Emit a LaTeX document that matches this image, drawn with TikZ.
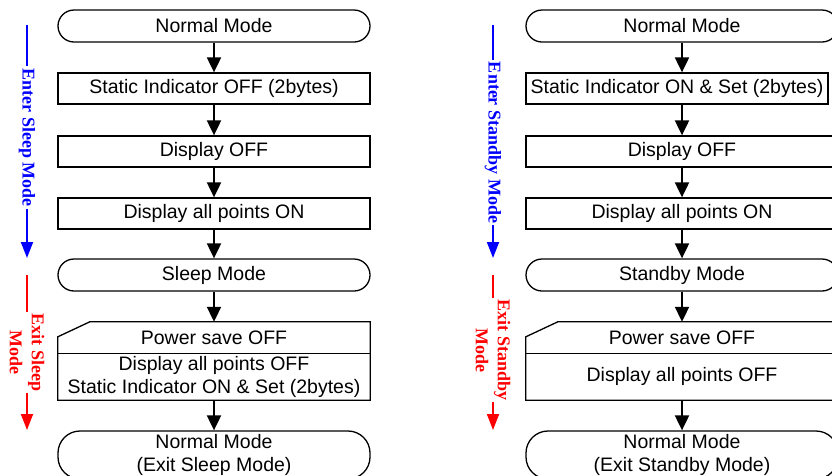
\documentclass[tikz,border=0pt]{standalone}
\usepackage{fontspec}
\setmainfont{Liberation Sans}
\newfontfamily\lblfont{Liberation Serif}
\usetikzlibrary{arrows.meta}
\begin{document}
\begin{tikzpicture}[x=1pt,y=-1pt,
  txtfont/.style={font=\fontsize{19.5}{23}\selectfont},
  term/.style={draw, line width=1.3pt, rounded corners=16pt, minimum width=312pt, minimum height=32pt, inner sep=0pt, txtfont, align=center},
  term2/.style={term, rounded corners=22pt, minimum height=48pt},
  stepbox/.style={draw, line width=1.3pt, minimum width=312pt, minimum height=31pt, inner sep=0pt, txtfont, align=center},
  area/.style={minimum width=312pt, inner sep=0pt, txtfont, align=center},
  boxline/.style={line width=1.3pt},
  flow/.style={-{Triangle[width=14pt,length=15pt]}, line width=2pt},
  lbl/.style={rotate=-90, inner sep=2pt, font=\lblfont\bfseries\fontsize{18}{22}\selectfont, align=center},
  blueline/.style={draw=blue, line width=1.8pt},
  redline/.style={draw=red, line width=1.8pt},
  bluearrow/.style={blueline, -{Triangle[width=12pt,length=16pt]}},
  redarrow/.style={redline, -{Triangle[width=12pt,length=16pt]}},
]
\useasboundingbox (0,0) rectangle (832,475);

% ---------------- Left column ----------------
\node[term] (n1) at (214,26) {Normal Mode};
\node[stepbox] (s1) at (214,88.5) {Static Indicator OFF (2bytes)};
\node[stepbox] (d1) at (214,151.5) {Display OFF};
\node[stepbox] (a1) at (214,213.5) {Display all points ON};
\node[term] (m1) at (214,275) {Sleep Mode};
\node[area, minimum height=31pt] (p1) at (214,337.5) {Power save OFF};
\node[area, minimum height=47pt] (q1) at (214,376.5) {Display all points OFF\\Static Indicator ON \& Set (2bytes)};
\node[term2] (e1) at (214,455) {Normal Mode\\(Exit Sleep Mode)};

\draw[boxline] ([yshift=-15pt]p1.north west) -- ([xshift=32pt]p1.north west) -- (p1.north east) -- (q1.south east) -- (q1.south west) -- cycle;
\draw[boxline] (p1.south west) -- (p1.south east);

\draw[flow] (n1) -- (s1);
\draw[flow] (s1) -- (d1);
\draw[flow] (d1) -- (a1);
\draw[flow] (a1) -- (m1);
\draw[flow] (m1) -- (p1.north);
\draw[flow] (q1.south) -- (e1);

% left labels
\coordinate (lb1) at (27,25);
\coordinate (lb2) at (27,258);
\node[lbl, text=blue] (el) at (27,137.5) {Enter Sleep Mode};
\draw[blueline] (lb1) -- (el.west);
\draw[bluearrow] (el.east) -- (lb2);

\coordinate (lr1) at (27,275);
\coordinate (lr2) at (27,430);
\node[lbl, text=red] (xl) at (27,352.5) {Exit Sleep\\Mode};
\draw[redline] (lr1) -- (xl.west);
\draw[redarrow] (xl.east) -- (lr2);

% ---------------- Right column ----------------
\node[term] (n2) at (682,26) {Normal Mode};
\node[stepbox, minimum width=302pt] (s2) at (677,88.5) {Static Indicator ON \& Set (2bytes)};
\node[stepbox] (d2) at (682,151.5) {Display OFF};
\node[stepbox] (a2) at (682,213.5) {Display all points ON};
\node[term] (m2) at (682,275) {Standby Mode};
\node[area, minimum height=31pt] (p2) at (682,337.5) {Power save OFF};
\node[area, minimum height=47pt] (q2) at (682,376.5) {Display all points OFF};
\node[term2] (e2) at (682,455) {Normal Mode\\(Exit Standby Mode)};

\draw[boxline] ([yshift=-15pt]p2.north west) -- ([xshift=32pt]p2.north west) -- (p2.north east) -- (q2.south east) -- (q2.south west) -- cycle;
\draw[boxline] (p2.south west) -- (p2.south east);

\draw[flow] (n2) -- (s2.north -| n2);
\draw[flow] (s2.south -| n2) -- (d2);
\draw[flow] (d2) -- (a2);
\draw[flow] (a2) -- (m2);
\draw[flow] (m2) -- (p2.north);
\draw[flow] (q2.south) -- (e2);

% right labels
\coordinate (rb1) at (493,25);
\coordinate (rb2) at (493,258);
\node[lbl, text=blue] (er) at (493,142.5) {Enter Standby Mode};
\draw[blueline] (rb1) -- (er.west);
\draw[bluearrow] (er.east) -- (rb2);

\coordinate (rr1) at (493,275);
\coordinate (rr2) at (493,430);
\node[lbl, text=red] (xr) at (493,350) {Exit Standby\\Mode};
\draw[redline] (rr1) -- (xr.west);
\draw[redarrow] (xr.east) -- (rr2);
\end{tikzpicture}
\end{document}
